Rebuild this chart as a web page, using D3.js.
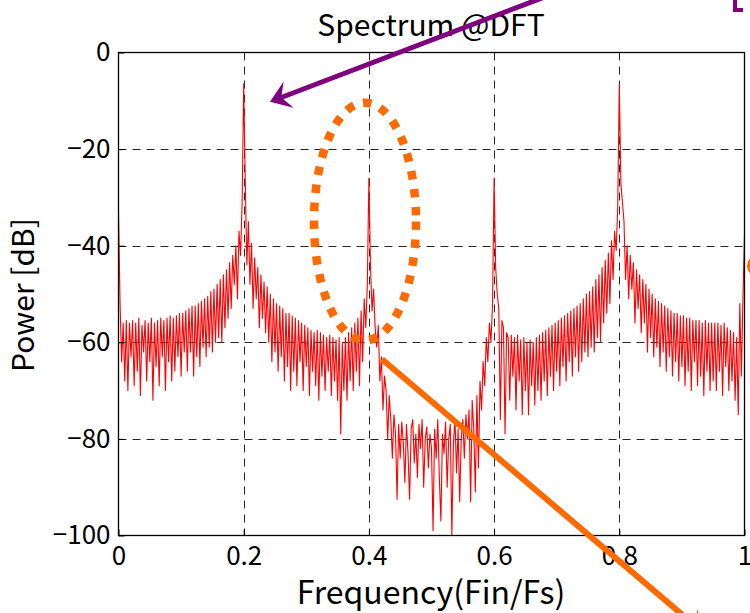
<!DOCTYPE html>
<html>
<head>
<meta charset="utf-8">
<script src="https://cdn.jsdelivr.net/npm/d3@7/dist/d3.min.js"></script>
<style>
  html, body { margin: 0; padding: 0; background: #fff; }
  svg { display: block; }
</style>
</head>
<body>
<svg id="chart" width="750" height="613"></svg>
<script>
// Axis ticks and labels
const xTicks = [0, 0.2, 0.4, 0.6, 0.8, 1];
const xTickLabels = ["0", "0.2", "0.4", "0.6", "0.8", "1"];
const yTicks = [0, -20, -40, -60, -80, -100];
const yTickLabels = ["0", "\u221220", "\u221240", "\u221260", "\u221280", "\u2212100"];

// DFT power per bin [dB], bins spread evenly over 0..1 (Fin/Fs)
const powerDb = [
  -33, -52, -64, -56, -68, -55.5, -70, -56, -63, -55.5, -69, -56, -66, -55, -71, -56.5, -62, -55.5, -68, -56,
  -64, -55, -72, -56, -65, -55.5, -69, -55, -63, -55.5, -70, -55, -64, -54.5, -68, -55, -66, -54.5, -63, -54,
  -67, -54, -62, -53.5, -66, -53, -62, -52.5, -67, -52.5, -63, -52, -65, -51.5, -61, -51, -63, -50.5, -61, -49.5,
  -62, -49, -60, -48, -59, -47, -60, -46, -57, -45, -55, -43.5, -53, -42, -48, -40, -51, -37, -42, -31,
  -6.5, -26.5, -44, -35, -48, -39.5, -53, -42.5, -51, -44.5, -57, -46, -55, -47.5, -58, -48.5, -60, -50, -64, -51,
  -62, -52, -66, -52.5, -63, -53, -68, -54, -65, -54, -70, -54.5, -66, -55, -69, -55.5, -64, -56, -70, -56.5,
  -65, -57, -71, -57.5, -66, -58, -69, -57.5, -72, -58, -67, -58.5, -70, -59, -66, -58.5, -71, -59, -68, -59.5,
  -72, -59, -79, -60, -70, -59, -72, -58, -68, -57, -70, -56, -66, -55, -69, -53.5, -64, -51, -57, -48,
  -26, -44, -53.5, -49, -57, -61, -56.5, -68, -63, -74, -67, -70, -80, -71, -76, -84, -75, -79, -92.5, -77,
  -84, -76.5, -81, -89, -77, -83, -92.5, -78, -76, -85, -79, -88, -77, -82, -76, -90, -80, -77.5, -86, -79,
  -82, -99, -78, -84, -76, -88, -97, -79, -83, -76.5, -90, -80, -77, -100, -81, -76, -87, -78, -93, -80,
  -76, -84, -75, -80, -74, -93, -72, -78, -91, -71, -86, -68, -74, -64, -69, -59, -64, -56, -60, -52,
  -26, -44.5, -50, -53, -76, -55.5, -57, -79, -58, -59, -72, -58.5, -67, -59, -74, -58.5, -68, -59.5, -75, -59,
  -70, -60, -75, -59.5, -69, -60, -73, -59, -70, -58.5, -72, -58, -68, -57.5, -71, -57, -67, -56.5, -70, -56,
  -66, -55.5, -69, -55, -65, -54.5, -68, -54, -64, -53.5, -67, -53, -63, -52.5, -66, -52, -64, -51, -62, -50,
  -63, -49.5, -61, -48.5, -62, -47, -59, -46, -60, -44.5, -56, -43, -54, -41.5, -52, -39, -47, -37, -41, -32,
  -6.6, -27, -31, -35, -47, -40, -51, -42, -49, -43.5, -56, -45, -53, -46, -58, -47, -56, -48, -62, -49,
  -59, -50, -63, -51, -61, -51.5, -65, -52, -62, -52.5, -66, -53, -63, -53.5, -67, -54, -64, -54, -68, -54.5,
  -65, -54.5, -69, -55, -66, -55, -70, -55.5, -64, -55.5, -69, -55.5, -67, -56, -71, -55.5, -66, -56, -70, -56,
  -68, -56, -70, -56, -66, -56.5, -71, -56, -65, -57, -70, -57.5, -68, -58, -72, -59, -75, -52, -67, -51, -37.5
];

// Annotation geometry, in data units (Fin/Fs, dB)
const purpleArrow = { from: [0.705, 12.7], to: [0.242, -10.2] };
const harmonicRing = { center: [0.3938, -35.0], rx: 0.0815, ry: 24.6 };
const orangeArrow = { from: [0.4209, -63.5], to: [0.9369, -120.4] };
const edgeMarker = { center: [1.0216, -44.2], r: 11 };

const svg = d3.select("#chart");
const W = 750, H = 613;
const margin = { top: 52.5, right: 5.5, bottom: 77.5, left: 118.5 };
const FONT = "'Noto Sans CJK JP', 'Noto Sans', sans-serif";

const x = d3.scaleLinear().domain([0, 1]).range([margin.left, W - margin.right]);
const y = d3.scaleLinear().domain([-100, 0]).range([H - margin.bottom, margin.top]);

// Grid
const grid = svg.append("g").attr("stroke", "#000").attr("stroke-width", 1)
  .attr("stroke-dasharray", "8,6").attr("opacity", 0.85);
grid.selectAll("line.v").data(xTicks.slice(1, -1)).join("line")
  .attr("x1", d => Math.round(x(d)) + 0.5).attr("x2", d => Math.round(x(d)) + 0.5)
  .attr("y1", y(0)).attr("y2", y(-100));
grid.selectAll("line.h").data(yTicks.slice(1, -1)).join("line")
  .attr("y1", d => Math.round(y(d)) + 0.5).attr("y2", d => Math.round(y(d)) + 0.5)
  .attr("x1", x(0)).attr("x2", x(1));

// Spectrum trace
const line = d3.line()
  .x((d, i) => x(i / (powerDb.length - 1)))
  .y(d => y(d));
svg.append("path").datum(powerDb)
  .attr("fill", "none").attr("stroke", "#ff0000").attr("stroke-width", 1.1)
  .attr("stroke-linejoin", "round")
  .attr("d", line);

// Axes with inward ticks
const xAxis = d3.axisBottom(x).tickValues(xTicks).tickFormat((d, i) => xTickLabels[i])
  .tickSizeInner(-6).tickSizeOuter(0).tickPadding(11);
const yAxis = d3.axisLeft(y).tickValues(yTicks).tickFormat((d, i) => yTickLabels[i])
  .tickSizeInner(-6).tickSizeOuter(0).tickPadding(8);

const gx = svg.append("g").attr("transform", `translate(0,${y(-100)})`).call(xAxis);
const gy = svg.append("g").attr("transform", `translate(${x(0)},0)`).call(yAxis);
[gx, gy].forEach(g => {
  g.select(".domain").remove();
  g.selectAll(".tick line").attr("stroke", "#000");
  g.selectAll("text").attr("font-family", FONT).attr("font-size", 26).attr("fill", "#000");
});
gx.selectAll("text").attr("dy", "0.71em");

// Frame
svg.append("rect")
  .attr("x", x(0)).attr("y", y(0))
  .attr("width", x(1) - x(0)).attr("height", y(-100) - y(0))
  .attr("fill", "none").attr("stroke", "#000").attr("stroke-width", 1.3);

// Titles
svg.append("text").attr("x", 431).attr("y", 36).attr("text-anchor", "middle")
  .attr("font-family", FONT).attr("font-size", 30).text("Spectrum @DFT");
svg.append("text").attr("x", 431).attr("y", 604).attr("text-anchor", "middle")
  .attr("font-family", FONT).attr("font-size", 32).text("Frequency(Fin/Fs)");
svg.append("text").attr("transform", "translate(34,295) rotate(-90)").attr("text-anchor", "middle")
  .attr("font-family", FONT).attr("font-size", 30).text("Power [dB]");

// Annotations
const ORANGE = "#ff6a00", PURPLE = "#800080";

// dotted ring round the 0.4 harmonic
svg.append("ellipse")
  .attr("cx", x(harmonicRing.center[0])).attr("cy", y(harmonicRing.center[1]))
  .attr("rx", x(harmonicRing.rx) - x(0)).attr("ry", y(0) - y(harmonicRing.ry))
  .attr("fill", "none").attr("stroke", ORANGE).attr("stroke-width", 8.5)
  .attr("stroke-dasharray", "8.5,9.5");

function arrow(spec, color, width, headLen, headHalf, notch) {
  const x0 = x(spec.from[0]), y0 = y(spec.from[1]);
  const x1 = x(spec.to[0]), y1 = y(spec.to[1]);
  const len = Math.hypot(x1 - x0, y1 - y0);
  const ux = (x1 - x0) / len, uy = (y1 - y0) / len;
  const nx = -uy, ny = ux;
  svg.append("line")
    .attr("x1", x0).attr("y1", y0)
    .attr("x2", x1 - ux * notch).attr("y2", y1 - uy * notch)
    .attr("stroke", color).attr("stroke-width", width);
  const pts = [
    [x1, y1],
    [x1 - ux * headLen + nx * headHalf, y1 - uy * headLen + ny * headHalf],
    [x1 - ux * notch, y1 - uy * notch],
    [x1 - ux * headLen - nx * headHalf, y1 - uy * headLen - ny * headHalf]
  ];
  svg.append("path").attr("d", "M" + pts.map(p => p.join(",")).join("L") + "Z").attr("fill", color);
}

arrow(purpleArrow, PURPLE, 5, 20, 14, 12);
arrow(orangeArrow, ORANGE, 6, 22, 14, 14);

// marker piece at the right edge
svg.append("circle")
  .attr("cx", x(edgeMarker.center[0])).attr("cy", y(edgeMarker.center[1]))
  .attr("r", edgeMarker.r).attr("fill", ORANGE);

// bracket glyph at the top right corner
svg.append("path").attr("d", "M735,0 V10 H743")
  .attr("fill", "none").attr("stroke", PURPLE).attr("stroke-width", 4);
</script>
</body>
</html>
